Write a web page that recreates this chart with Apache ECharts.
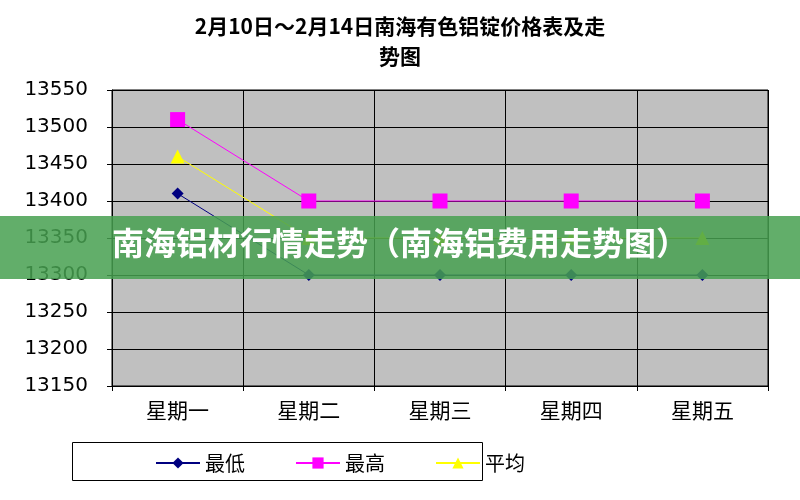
<!DOCTYPE html>
<html><head><meta charset="utf-8">
<script src="https://cdn.jsdelivr.net/npm/echarts@6/dist/echarts.min.js"></script>
<style>html,body{margin:0;background:#fff}#main{width:800px;height:500px}</style>
</head><body><div id="main"></div>
<script>
const days = ['星期一', '星期二', '星期三', '星期四', '星期五']
const lowPrices = [13410, 13300, 13300, 13300, 13300]
const highPrices = [13510, 13400, 13400, 13400, 13400]
const avgPrices = [13460, 13350, 13350, 13350, 13350]
const FONT = '"Noto Sans CJK SC", sans-serif'

const chart = echarts.init(document.getElementById('main'))
chart.setOption({
  animation: false,
  title: {
    text: '2月10日～2月14日南海有色铝锭价格表及走\n势图',
    left: 'center', top: 6,
    textStyle: { fontFamily: FONT, fontSize: 21, fontWeight: 'bold', color: '#000', lineHeight: 30 },
  },
  grid: { left: 112, right: 32, top: 90, bottom: 114, show: true, backgroundColor: '#c0c0c0', borderColor: '#000', borderWidth: 1 },
  legend: {
    bottom: 22, left: 150, itemGap: 50, itemWidth: 44, itemHeight: 14,
    textStyle: { fontFamily: FONT, fontSize: 20, color: '#000' },
    data: ['最低', '最高', '平均'],
  },
  xAxis: {
    type: 'category', data: days, boundaryGap: true,
    axisLine: { lineStyle: { color: '#000' } },
    axisTick: { show: true, lineStyle: { color: '#000' } },
    splitLine: { show: true, lineStyle: { color: '#000' } },
    axisLabel: { fontFamily: FONT, fontSize: 21, color: '#000', margin: 14 },
  },
  yAxis: {
    type: 'value', min: 13150, max: 13550, interval: 50,
    axisLine: { show: true, lineStyle: { color: '#000' } },
    axisTick: { show: true, lineStyle: { color: '#000' } },
    splitLine: { lineStyle: { color: '#000' } },
    axisLabel: { fontFamily: '"DejaVu Sans", sans-serif', fontSize: 20, color: '#000', margin: 24, formatter: v => String(v) },
  },
  series: [
    { name: '最低', type: 'line', data: lowPrices, symbol: 'diamond', symbolSize: 12,
      lineStyle: { color: '#000080', width: 1 }, itemStyle: { color: '#000080' } },
    { name: '最高', type: 'line', data: highPrices, symbol: 'rect', symbolSize: 15,
      lineStyle: { color: '#ff00ff', width: 1 }, itemStyle: { color: '#ff00ff' } },
    { name: '平均', type: 'line', data: avgPrices, symbol: 'triangle', symbolSize: 14,
      lineStyle: { color: '#ffff00', width: 1 }, itemStyle: { color: '#ffff00' } },
  ],
  graphic: [
    { type: 'rect', left: 70, top: 440, shape: { width: 410, height: 38 }, silent: true,
      style: { fill: 'none', stroke: '#000', lineWidth: 1 } },
    { type: 'rect', left: 0, top: 216, shape: { width: 800, height: 63 }, z: 50, silent: true,
      style: { fill: 'rgba(70,160,80,0.85)' } },
    { type: 'text', left: 'center', top: 227, z: 51, silent: true,
      style: { text: '南海铝材行情走势（南海铝费用走势图）', fill: '#fff', fontFamily: FONT, fontSize: 32, fontWeight: 'bold' } },
  ],
})
</script></body></html>
